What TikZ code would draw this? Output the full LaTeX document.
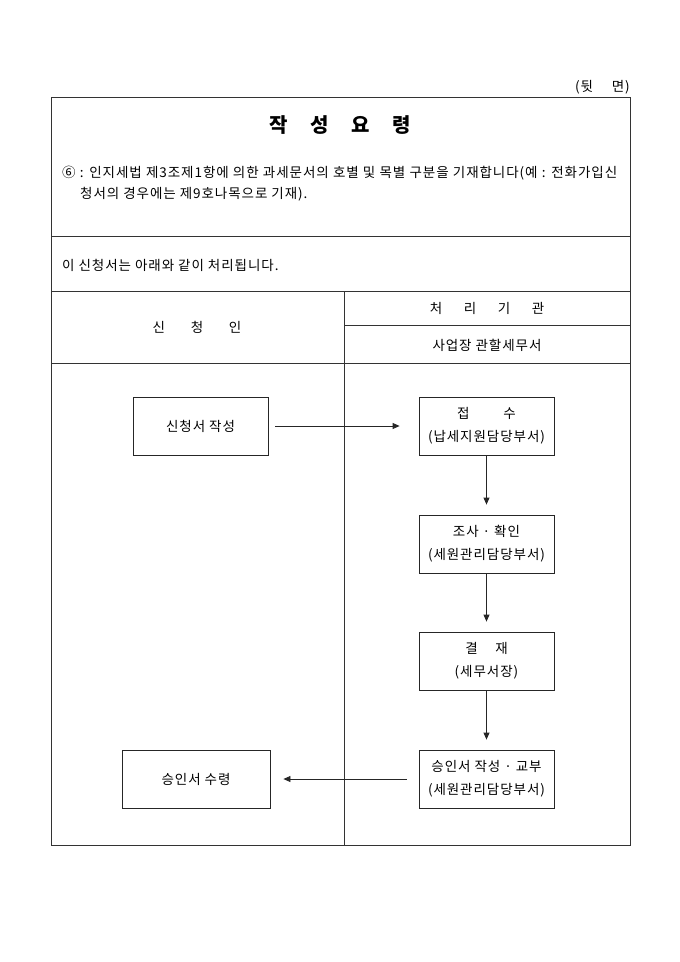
\documentclass[tikz,border=0pt]{standalone}
\usepackage{fontspec}
\setmainfont{Noto Sans CJK KR}[LetterSpace=7]
\usetikzlibrary{arrows.meta}
\begin{document}
\begin{tikzpicture}[x=1pt,y=-1pt,
  txt/.style={inner sep=0pt, font=\fontsize{13.5}{16}\selectfont},
  box/.style={draw=black!85, line width=0.8pt, minimum width=135pt, minimum height=58pt, inner sep=0pt, align=center, font=\fontsize{13.5}{23}\selectfont},
  flow/.style={draw=black!85, line width=0.8pt, -{Triangle[length=7pt,width=6pt]}},
  rule/.style={draw=black!80, line width=0.9pt}]
\useasboundingbox (0,0) rectangle (680,962);
% form frame
\draw[rule] (51,97) rectangle (630,845);
\draw[rule] (51,236) -- (630,236);
\draw[rule] (51,291) -- (630,291);
\draw[rule] (344,291) -- (344,845);
\draw[rule] (344,325) -- (630,325);
\draw[rule] (51,363) -- (630,363);
% texts
\node[txt, anchor=east] (side) at (630,87) {(뒷\hspace{1.4em}면)};
\node[inner sep=0pt, font=\fontsize{20}{24}\selectfont\bfseries] (title) at (340,125) {작\hspace{1.13em}성\hspace{1.13em}요\hspace{1.13em}령};
\node[txt, anchor=west] (n1) at (62,173) {\makebox[555pt][s]{⑥ : 인지세법 제3조제1항에 의한 과세문서의 호별 및 목별 구분을 기재합니다(예 : 전화가입신}};
\node[txt, anchor=west] (n2) at (80,194) {청서의 경우에는 제9호나목으로 기재).};
\node[txt, anchor=west] (n3) at (62,265) {이 신청서는 아래와 같이 처리됩니다.};
\node[txt] (h1) at (197,327) {신\hspace{1.9em}청\hspace{1.9em}인};
\node[txt] (h2) at (487,308) {처\hspace{1.6em}리\hspace{1.6em}기\hspace{1.6em}관};
\node[txt] (h3) at (487,345) {사업장 관할세무서};
% boxes
\node[box] (b1) at (200.5,426) {신청서 작성};
\node[box] (b2) at (486.5,426) {접\hspace{2.5em}수\\(납세지원담당부서)};
\node[box] (b3) at (486.5,544) {조사 · 확인\\(세원관리담당부서)};
\node[box] (b4) at (486.5,661) {결\hspace{1.3em}재\\(세무서장)};
\node[box] (b5) at (486.5,779) {승인서 작성 · 교부\\(세원관리담당부서)};
\node[box, minimum width=148pt] (b6) at (196,779) {승인서 수령};
% connectors
\draw[flow, shorten <=7pt, shorten >=19pt] (b1.east) -- (b2.west);
\draw[flow, shorten >=10pt] (b2.south) -- (b3.north);
\draw[flow, shorten >=10pt] (b3.south) -- (b4.north);
\draw[flow, shorten >=10pt] (b4.south) -- (b5.north);
\draw[flow, shorten <=12pt, shorten >=13pt] (b5.west) -- (b6.east);
\end{tikzpicture}
\end{document}
